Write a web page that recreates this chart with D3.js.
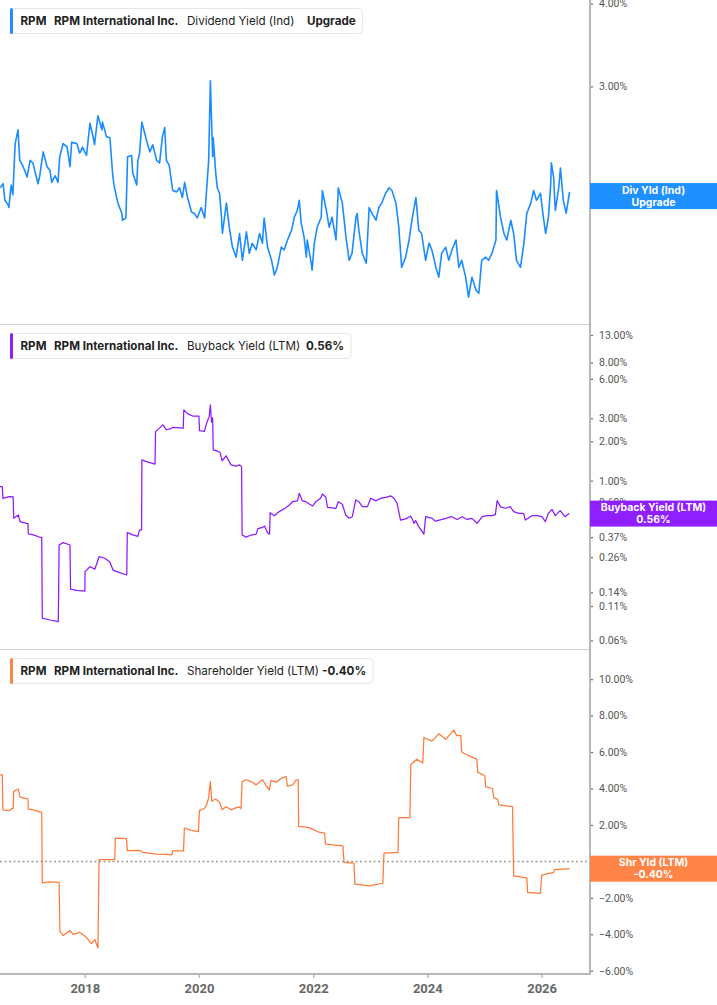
<!DOCTYPE html>
<html><head><meta charset="utf-8">
<script src="https://cdn.jsdelivr.net/npm/d3@7"></script>
<style>body{margin:0;background:#fff}svg{display:block}</style>
</head><body><svg id="c" width="717" height="1005"></svg>
<script>
// ---- data (decimal year, value in %) ----
const divYield = [[2016.52,2.11],[2016.57,2.14],[2016.60,2.02],[2016.655,1.99],[2016.67,1.97],[2016.71,2.13],[2016.74,2.06],[2016.78,2.46],[2016.83,2.58],[2016.86,2.32],[2016.92,2.27],[2016.99,2.19],[2017.04,2.32],[2017.09,2.30],[2017.18,2.14],[2017.21,2.20],[2017.27,2.39],[2017.34,2.27],[2017.39,2.24],[2017.42,2.15],[2017.48,2.20],[2017.53,2.15],[2017.56,2.35],[2017.62,2.46],[2017.69,2.43],[2017.74,2.27],[2017.77,2.47],[2017.86,2.46],[2017.91,2.38],[2017.96,2.43],[2018.03,2.36],[2018.09,2.64],[2018.14,2.53],[2018.17,2.45],[2018.23,2.71],[2018.30,2.58],[2018.31,2.65],[2018.38,2.52],[2018.44,2.51],[2018.49,2.20],[2018.52,2.11],[2018.58,2.00],[2018.65,1.93],[2018.66,1.885],[2018.72,1.90],[2018.75,2.35],[2018.82,2.36],[2018.84,2.22],[2018.91,2.13],[2018.93,2.32],[2018.96,2.38],[2019.00,2.65],[2019.05,2.55],[2019.08,2.49],[2019.14,2.39],[2019.19,2.45],[2019.26,2.32],[2019.31,2.30],[2019.36,2.52],[2019.40,2.60],[2019.43,2.32],[2019.48,2.28],[2019.54,2.09],[2019.61,2.08],[2019.66,2.11],[2019.71,2.04],[2019.75,2.15],[2019.80,2.04],[2019.87,1.94],[2019.92,1.93],[2019.97,1.90],[2020.04,1.97],[2020.10,1.90],[2020.13,2.07],[2020.17,2.32],[2020.20,3.06],[2020.24,2.35],[2020.25,2.51],[2020.29,2.24],[2020.32,2.11],[2020.36,2.07],[2020.39,1.93],[2020.41,1.80],[2020.48,2.00],[2020.53,1.84],[2020.585,1.717],[2020.65,1.658],[2020.71,1.80],[2020.76,1.64],[2020.83,1.81],[2020.88,1.68],[2020.93,1.74],[2021.00,1.70],[2021.06,1.80],[2021.11,1.74],[2021.14,1.90],[2021.20,1.717],[2021.27,1.64],[2021.32,1.558],[2021.37,1.60],[2021.44,1.717],[2021.49,1.70],[2021.55,1.76],[2021.62,1.82],[2021.67,1.905],[2021.72,1.95],[2021.755,2.02],[2021.79,1.866],[2021.84,1.777],[2021.88,1.658],[2021.895,1.76],[2021.965,1.624],[2021.98,1.585],[2022.02,1.741],[2022.07,1.84],[2022.14,1.905],[2022.16,2.09],[2022.23,1.95],[2022.28,1.84],[2022.33,1.905],[2022.40,1.76],[2022.44,2.11],[2022.51,2.00],[2022.58,1.76],[2022.63,1.64],[2022.68,1.68],[2022.75,1.905],[2022.77,1.93],[2022.80,1.82],[2022.86,1.68],[2022.93,1.624],[2022.98,1.97],[2023.03,1.93],[2023.10,1.885],[2023.15,1.97],[2023.20,2.00],[2023.27,2.07],[2023.33,2.11],[2023.38,2.09],[2023.45,2.00],[2023.50,1.84],[2023.55,1.60],[2023.62,1.658],[2023.68,1.76],[2023.73,1.885],[2023.80,2.04],[2023.85,1.82],[2023.90,1.80],[2023.97,1.64],[2024.03,1.741],[2024.08,1.70],[2024.15,1.60],[2024.20,1.547],[2024.25,1.68],[2024.32,1.717],[2024.375,1.64],[2024.43,1.70],[2024.50,1.76],[2024.55,1.60],[2024.60,1.64],[2024.67,1.547],[2024.72,1.443],[2024.78,1.547],[2024.85,1.478],[2024.90,1.463],[2024.95,1.64],[2025.02,1.658],[2025.07,1.64],[2025.13,1.68],[2025.20,1.76],[2025.21,2.09],[2025.28,1.905],[2025.34,1.80],[2025.39,1.76],[2025.46,1.885],[2025.51,1.80],[2025.56,1.64],[2025.63,1.60],[2025.69,1.741],[2025.74,1.93],[2025.81,2.00],[2025.86,2.09],[2025.91,2.02],[2025.98,2.07],[2026.03,1.905],[2026.07,1.80],[2026.12,1.905],[2026.16,2.14],[2026.17,2.30],[2026.21,2.19],[2026.24,1.95],[2026.30,2.11],[2026.33,2.26],[2026.38,2.02],[2026.43,1.93],[2026.49,2.08]];

const buybackYield = [[2016.515,0.90],[2016.555,0.90],[2016.565,0.733],[2016.68,0.755],[2016.745,0.75],[2016.755,0.516],[2016.835,0.547],[2016.865,0.486],[2016.98,0.472],[2017.005,0.47],[2017.01,0.391],[2017.10,0.385],[2017.21,0.369],[2017.245,0.369],[2017.255,0.0887],[2017.39,0.086],[2017.535,0.0836],[2017.55,0.322],[2017.62,0.336],[2017.74,0.322],[2017.75,0.148],[2017.855,0.145],[2018.00,0.143],[2018.005,0.2015],[2018.09,0.22],[2018.175,0.21],[2018.25,0.262],[2018.35,0.255],[2018.435,0.24],[2018.495,0.207],[2018.61,0.198],[2018.735,0.19],[2018.745,0.40],[2018.84,0.385],[2018.93,0.375],[2018.96,0.42],[2018.995,0.42],[2019.00,1.44],[2019.08,1.40],[2019.23,1.34],[2019.24,2.37],[2019.37,2.67],[2019.43,2.45],[2019.51,2.50],[2019.54,2.56],[2019.725,2.52],[2019.735,3.47],[2019.805,3.24],[2019.89,3.12],[2020.00,3.12],[2020.01,2.41],[2020.095,2.38],[2020.135,2.75],[2020.18,3.10],[2020.20,3.79],[2020.22,2.80],[2020.24,3.02],[2020.25,1.72],[2020.33,1.68],[2020.37,1.64],[2020.405,1.42],[2020.475,1.55],[2020.56,1.32],[2020.65,1.29],[2020.71,1.32],[2020.745,1.28],[2020.755,0.384],[2020.825,0.37],[2020.91,0.384],[2021.00,0.39],[2021.03,0.43],[2021.115,0.44],[2021.145,0.45],[2021.20,0.40],[2021.235,0.39],[2021.245,0.569],[2021.32,0.54],[2021.405,0.58],[2021.52,0.62],[2021.58,0.652],[2021.64,0.69],[2021.725,0.70],[2021.755,0.80],[2021.81,0.70],[2021.87,0.69],[2021.96,0.652],[2021.99,0.64],[2022.045,0.69],[2022.13,0.733],[2022.16,0.79],[2022.22,0.75],[2022.25,0.626],[2022.34,0.62],[2022.395,0.61],[2022.44,0.69],[2022.51,0.66],[2022.57,0.546],[2022.63,0.516],[2022.685,0.53],[2022.745,0.712],[2022.80,0.69],[2022.86,0.633],[2022.95,0.633],[2023.01,0.733],[2023.095,0.70],[2023.18,0.733],[2023.27,0.745],[2023.36,0.764],[2023.415,0.733],[2023.47,0.67],[2023.53,0.50],[2023.62,0.51],[2023.705,0.535],[2023.735,0.51],[2023.765,0.472],[2023.795,0.495],[2023.85,0.445],[2023.94,0.39],[2023.97,0.53],[2024.085,0.515],[2024.14,0.49],[2024.26,0.505],[2024.32,0.515],[2024.43,0.53],[2024.52,0.505],[2024.61,0.53],[2024.695,0.505],[2024.78,0.515],[2024.87,0.472],[2024.96,0.53],[2025.045,0.54],[2025.13,0.54],[2025.19,0.55],[2025.22,0.703],[2025.28,0.63],[2025.365,0.615],[2025.45,0.633],[2025.51,0.58],[2025.60,0.563],[2025.685,0.563],[2025.715,0.50],[2025.83,0.54],[2025.92,0.54],[2026.005,0.53],[2026.065,0.486],[2026.12,0.563],[2026.18,0.604],[2026.24,0.54],[2026.325,0.59],[2026.41,0.53],[2026.485,0.563]];

const shareholderYield = [[2016.515,4.75],[2016.555,4.75],[2016.565,2.83],[2016.68,2.78],[2016.72,2.90],[2016.745,2.90],[2016.755,3.84],[2016.835,3.97],[2016.865,3.53],[2016.98,3.45],[2017.005,3.40],[2017.01,2.87],[2017.10,2.83],[2017.245,2.69],[2017.255,-1.18],[2017.39,-1.12],[2017.55,-1.15],[2017.563,-3.84],[2017.62,-4.07],[2017.74,-3.80],[2017.795,-4.00],[2017.91,-3.90],[2018.00,-4.10],[2018.06,-4.29],[2018.115,-4.51],[2018.175,-4.29],[2018.23,-4.75],[2018.25,0.09],[2018.525,0.10],[2018.535,1.28],[2018.73,1.25],[2018.745,0.59],[2018.96,0.60],[2019.02,0.49],[2019.25,0.40],[2019.43,0.38],[2019.525,0.36],[2019.54,0.57],[2019.73,0.57],[2019.745,1.83],[2019.86,1.70],[2019.99,1.63],[2020.01,2.80],[2020.095,2.90],[2020.135,3.10],[2020.17,3.50],[2020.20,4.38],[2020.225,3.30],[2020.29,3.42],[2020.36,3.25],[2020.405,2.83],[2020.475,3.00],[2020.56,2.83],[2020.65,2.95],[2020.71,2.98],[2020.735,2.90],[2020.755,4.38],[2020.825,4.48],[2020.91,4.38],[2021.00,4.20],[2021.115,4.48],[2021.175,4.15],[2021.23,3.93],[2021.26,4.45],[2021.35,4.35],[2021.45,4.57],[2021.525,4.66],[2021.55,4.11],[2021.64,4.20],[2021.695,4.45],[2021.737,4.48],[2021.745,1.92],[2021.93,1.85],[2022.10,1.60],[2022.20,1.55],[2022.215,0.95],[2022.35,0.90],[2022.52,0.85],[2022.54,-0.05],[2022.715,-0.10],[2022.73,-1.25],[2022.98,-1.35],[2023.22,-1.20],[2023.24,0.45],[2023.485,0.50],[2023.50,2.40],[2023.695,2.40],[2023.71,5.30],[2023.815,5.60],[2023.92,5.40],[2023.94,6.80],[2024.08,6.60],[2024.20,7.00],[2024.32,6.70],[2024.46,7.20],[2024.515,6.90],[2024.585,6.90],[2024.60,6.00],[2024.725,5.80],[2024.865,5.60],[2024.88,4.90],[2025.005,4.70],[2025.02,4.10],[2025.14,4.00],[2025.16,3.50],[2025.23,3.40],[2025.25,3.10],[2025.49,3.00],[2025.51,-0.80],[2025.74,-0.90],[2025.755,-1.70],[2025.98,-1.75],[2026.00,-0.75],[2026.21,-0.60],[2026.225,-0.45],[2026.49,-0.40]];

const divTicks = [4, 3, 2];
const buybackTicks = [13, 8, 6, 3, 2, 1, 0.69, 0.37, 0.26, 0.14, 0.11, 0.06];
const shrTicks = [10, 8, 6, 4, 2, 0, -2, -4, -6];
const yearTicks = [2018, 2020, 2022, 2024, 2026];
const currentValues = [2.05, 0.56, -0.40];
const legendTexts = [
  ["RPM", "RPM International Inc.", "Dividend Yield (Ind)", "Upgrade"],
  ["RPM", "RPM International Inc.", "Buyback Yield (LTM)", "0.56%"],
  ["RPM", "RPM International Inc.", "Shareholder Yield (LTM)", "-0.40%"]
];
const badgeTexts = [["Div Yld (Ind)", "Upgrade"], ["Buyback Yield (LTM)", "0.56%"], ["Shr Yld (LTM)", "-0.40%"]];

// ---- helpers ----
function toDate(y){ const Y=Math.floor(y); const s=Date.UTC(Y,0,1), e=Date.UTC(Y+1,0,1); return new Date(s+(y-Y)*(e-s)); }

const svg = d3.select("#c");
const AX = 590;
const colors = ["#1a8cff", "#8c1aff", "#ff7a3a"];
const badgeColors = ["#1e90ff", "#8f1fff", "#ff8446"];

const x = d3.scaleUtc().domain([toDate(2016.515), toDate(2026.848)]).range([0, AX]);
const panels = [
  {top:0, y:d3.scaleLog().domain([1.31, 4.05]).range([325, 0]), data:divYield, ticks:divTicks},
  {top:325, y:d3.scaleLog().domain([0.0507, 15.5]).range([650, 325]), data:buybackYield, ticks:buybackTicks},
  {top:650, y:d3.scaleLinear().domain([-6.18, 11.6]).range([974, 650]), data:shareholderYield, ticks:shrTicks}
];

svg.append("rect").attr("width",717).attr("height",1005).attr("fill","#fff");

// separators
[324.5, 649.5].forEach(yy => svg.append("line").attr("x1",0).attr("x2",AX).attr("y1",yy).attr("y2",yy).attr("stroke","#d0d0d0").attr("stroke-width",1));

// zero line in bottom panel
svg.append("line").attr("x1",0).attr("x2",AX).attr("y1",panels[2].y(0)).attr("y2",panels[2].y(0))
  .attr("stroke","#9a9a9a").attr("stroke-width",1.5).attr("stroke-dasharray","2,2.5");

// lines
panels.forEach((p,i) => {
  const line = d3.line().x(d => x(toDate(d[0]))).y(d => p.y(d[1]));
  svg.append("path").datum(p.data).attr("d", line).attr("fill","none")
    .attr("stroke", colors[i]).attr("stroke-width", i===0?1.6:1.25).attr("stroke-linejoin","round");
});

// y axes
panels.forEach((p,i) => {
  const ax = d3.axisRight(p.y).tickValues(p.ticks).tickSize(3).tickPadding(6)
    .tickFormat(d => d3.format(".2f")(d) + "%");
  const g = svg.append("g").attr("transform", `translate(${AX},0)`).call(ax);
  g.select(".domain").remove();
  g.selectAll(".tick line").attr("stroke","#666").attr("stroke-width",1.2);
  g.selectAll(".tick text").attr("fill","#555").style("font-family","Roboto").style("font-size","10.5px");
});

// vertical axis line
svg.append("line").attr("x1",AX).attr("x2",AX).attr("y1",0).attr("y2",975).attr("stroke","#b8b8b8").attr("stroke-width",2);

// x axis
const xa = d3.axisBottom(x).tickValues(yearTicks.map(toDate)).tickSize(4).tickPadding(6)
  .tickFormat(d => d.getUTCFullYear());
const gx = svg.append("g").attr("transform","translate(0,974)").call(xa);
gx.select(".domain").remove();
gx.selectAll(".tick line").attr("stroke","#b8b8b8").attr("stroke-width",1.5);
gx.selectAll(".tick text").attr("fill","#666").style("font-family","Roboto").style("font-size","13px").style("font-weight","bold");
svg.append("line").attr("x1",0).attr("x2",AX+1).attr("y1",974).attr("y2",974).attr("stroke","#b8b8b8").attr("stroke-width",2);

// badges
panels.forEach((p,i) => {
  const cy = p.y(currentValues[i]);
  const g = svg.append("g");
  g.append("rect").attr("x",AX).attr("y",cy-13).attr("width",717-AX).attr("height",26).attr("fill",badgeColors[i]);
  badgeTexts[i].forEach((t,k) => g.append("text").attr("x",(AX+717)/2).attr("y",cy-2.5+k*12)
    .attr("text-anchor","middle").attr("fill","#fff").style("font-family","Inter").style("font-weight","bold").style("font-size","10.5px").text(t));
});

// legends
const legendX = [[20.5, 54, 187, 307], [20.5, 54, 187, 306], [20.5, 54, 187, 322]];
panels.forEach((p,i) => {
  const g = svg.append("g");
  const box = g.append("rect").attr("x",10.5).attr("y",p.top+8.5).attr("height",25).attr("rx",4)
    .attr("fill","#fff").attr("stroke","#e6e6e6");
  let end = 0;
  legendTexts[i].forEach((t,k) => {
    const tx = g.append("text").attr("x",legendX[i][k]).attr("y",p.top+25)
      .attr("fill","#222").style("font-family","Inter").style("font-size","11.6px")
      .style("font-weight", k===2 ? "normal" : "bold").text(t);
    end = legendX[i][k] + tx.node().getComputedTextLength();
  });
  box.attr("width", end + 7 - 10.5);
  g.append("rect").attr("x",10).attr("y",p.top+8).attr("width",3).attr("height",26).attr("rx",1.5).attr("fill",badgeColors[i]);
});
</script></body></html>
